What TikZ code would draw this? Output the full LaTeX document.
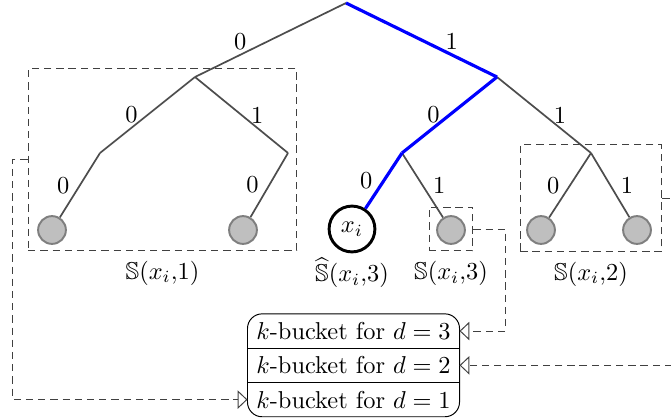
\documentclass[tikz,border=0pt]{standalone}
\usepackage{tikz}
\usepackage{amssymb}
\usetikzlibrary{arrows.meta,positioning,fit}
\definecolor{edgegray}{HTML}{4D4D4D}
\definecolor{leafgray}{HTML}{BFBFBF}
\definecolor{rimgray}{HTML}{7F7F7F}
\definecolor{dashgray}{HTML}{404040}
\tikzset{
  treeedge/.style={draw=edgegray, line width=0.7pt},
  pathedge/.style={draw=blue, line width=1.3pt},
  leafnode/.style={
    circle, draw=rimgray, fill=leafgray, thick,
    minimum size=0.4cm, inner sep=0pt
  },
  targetnode/.style={
    circle, draw=black, line width=1.2pt,
    minimum size=0.66cm, inner sep=0pt
  },
  subtreebox/.style={
    rectangle, draw=dashgray, dash pattern=on 3pt off 2pt, inner sep=0pt
  },
  sublabel/.style={text height=9.5pt, text depth=2.5pt, inner sep=2pt},
  bitlabel/.style={inner sep=1.5pt},
  bucketrow/.style={
    rectangle, minimum width=3.04cm, minimum height=0.48cm,
    inner sep=0pt
  },
  linkarrow/.style={
    -{Triangle[open, length=4pt, width=7.5pt]},
    dash pattern=on 3pt off 2pt, draw=dashgray
  },
}

\begin{document}
\begin{tikzpicture}[x=0.0144cm, y=-0.0144cm]
  \useasboundingbox (0,0) rectangle (671,419);
  % inner vertices of the trie
  \coordinate (r) at (346,3);
  \coordinate (n0) at (195,77);
  \coordinate (n1) at (497,77);
  \coordinate (n00) at (100,153);
  \coordinate (n01) at (288,153);
  \coordinate (n10) at (402,153);
  \coordinate (n11) at (591,153);
  % leaves
  \node[leafnode] (l000) at (52,230) {};
  \node[leafnode] (l010) at (243,230) {};
  \node[targetnode] (xi) at (352,229) {$x_i$};
  \node[leafnode] (l101) at (451,230) {};
  \node[leafnode] (l110) at (541,230) {};
  \node[leafnode] (l111) at (637,230) {};
  % subtrees
  \node[subtreebox, minimum width=3.87cm, minimum height=2.61cm] (s1) at (162.5,159.5) {};
  \node[subtreebox, minimum width=0.63cm, minimum height=0.63cm] (s3) at (451,229) {};
  \node[subtreebox, minimum width=2.04cm, minimum height=1.53cm] (s2) at (591,198) {};
  \node[sublabel, below=0pt of s1] (s1lbl) {$\mathbb{S}(x_i{,}1)$};
  \node[sublabel, below=0pt of xi] (xilbl) {$\widehat{\mathbb{S}}(x_i{,}3)$};
  \node[sublabel, below=0pt of s3] (s3lbl) {$\mathbb{S}(x_i{,}3)$};
  \node[sublabel, below=0pt of s2] (s2lbl) {$\mathbb{S}(x_i{,}2)$};
  % edges
  \draw[treeedge] (r) -- node[bitlabel, pos=0.7, above] (e0) {0} (n0);
  \draw[treeedge] (n0) -- node[bitlabel, pos=0.67, above] (e00) {0} (n00);
  \draw[treeedge] (n0) -- node[bitlabel, pos=0.67, above] (e01) {1} (n01);
  \draw[treeedge] (n00) -- node[bitlabel, midway, left=2.5pt] (e000) {0} (l000);
  \draw[treeedge] (n01) -- node[bitlabel, midway, left=2.5pt] (e010) {0} (l010);
  \draw[treeedge] (n1) -- node[bitlabel, pos=0.67, above] (e11) {1} (n11);
  \draw[treeedge] (n10) -- node[bitlabel, midway, right=2.5pt] (e101) {1} (l101);
  \draw[treeedge] (n11) -- node[bitlabel, midway, left=2.5pt] (e110) {0} (l110);
  \draw[treeedge] (n11) -- node[bitlabel, midway, right=2.5pt] (e111) {1} (l111);
  \draw[pathedge] (r) -- node[bitlabel, pos=0.7, above] (e1) {1} (n1);
  \draw[pathedge] (n1) -- node[bitlabel, pos=0.67, above] (e10) {0} (n10);
  \draw[pathedge] (n10) -- node[bitlabel, midway, left=2.5pt] (e100) {0} (xi);
  % k-buckets
  \node[bucketrow] (b3) at (353.5,331) {$k$-bucket for $d=3$};
  \node[bucketrow, below=0pt of b3] (b2) {$k$-bucket for $d=2$};
  \node[bucketrow, below=0pt of b2] (b1) {$k$-bucket for $d=1$};
  \node[draw, rounded corners=6pt, fit=(b3)(b1), inner sep=0pt] (bucket) {};
  \draw (b3.south west) -- (b3.south east);
  \draw (b2.south west) -- (b2.south east);
  \draw[linkarrow] (s3.east) -- ++(32,0) |- (b3.east);
  \draw[linkarrow] (s2.east) -- ++(25,0) |- (b2.east);
  \draw[linkarrow] (s1.west) -- ++(-15,0) |- (b1.west);
\end{tikzpicture}
\end{document}
